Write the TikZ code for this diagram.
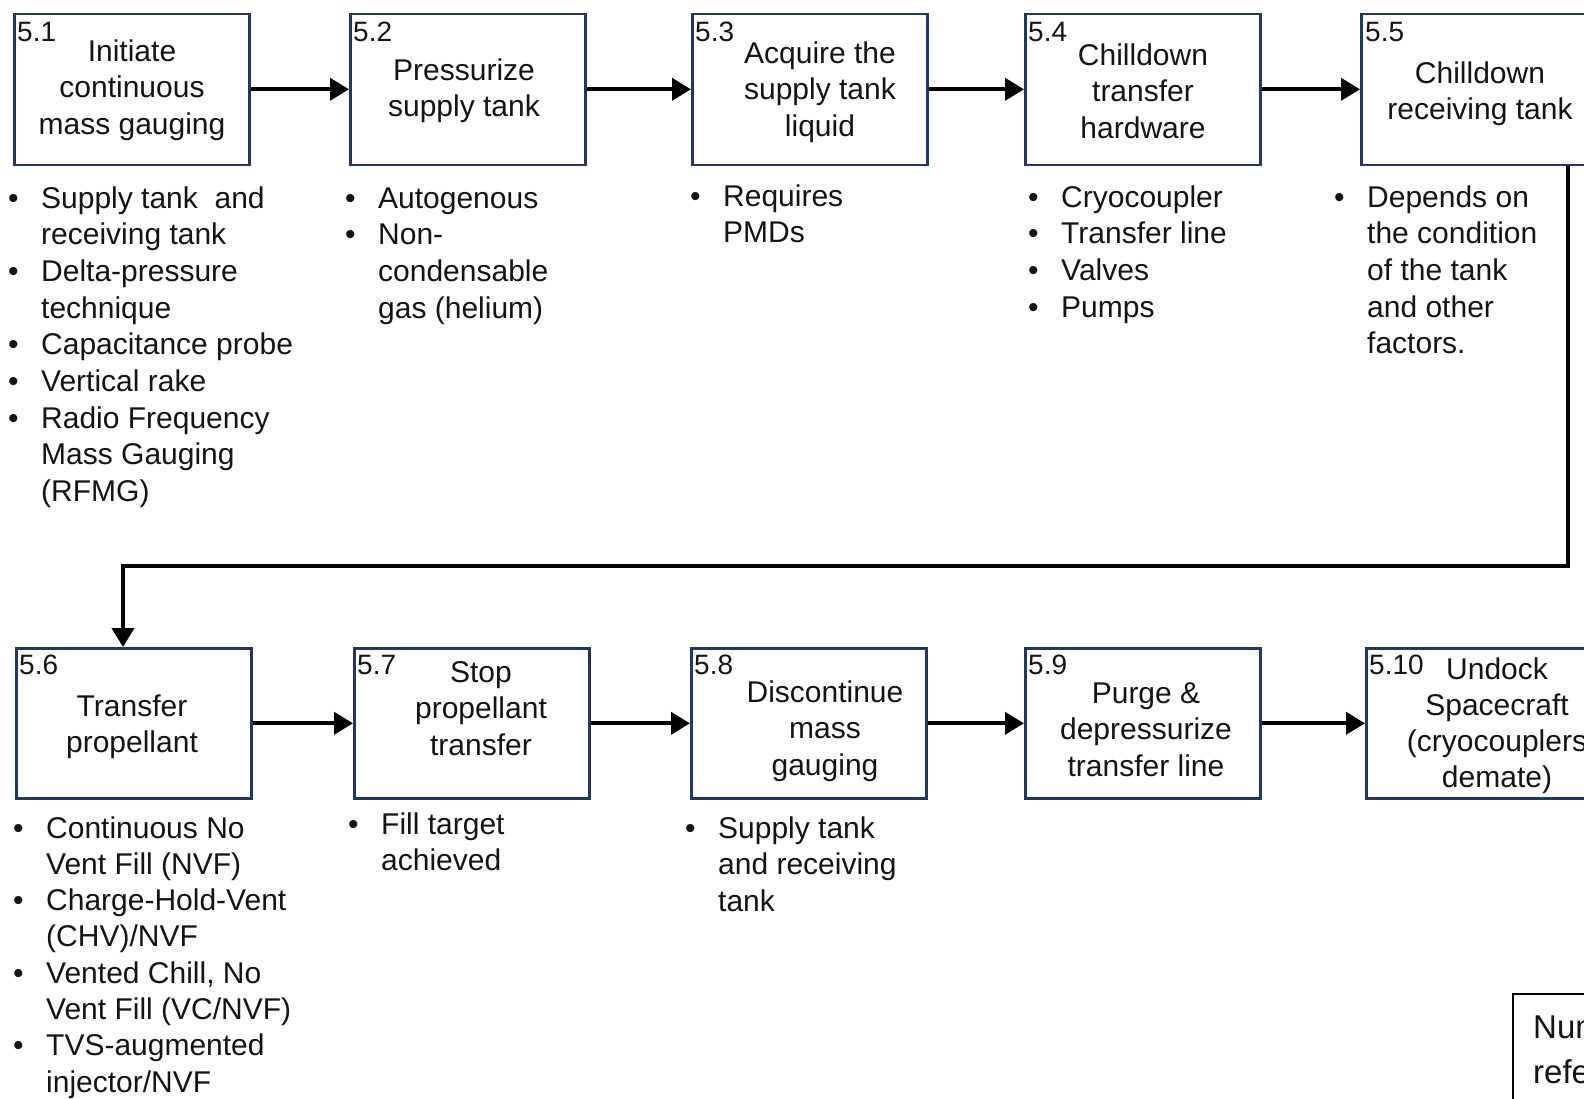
\documentclass[tikz,border=0pt]{standalone}
\usepackage{fontspec}
\setmainfont{Liberation Sans}
\usetikzlibrary{arrows.meta}
\definecolor{boxblue}{RGB}{31,56,100}
\definecolor{txt}{RGB}{20,20,20}
\newcommand\bu{\makebox[33pt][l]{•}}
\newcommand\bi{\hspace*{33pt}}
\begin{document}
\begin{tikzpicture}[x=1pt,y=-1pt,
  stepbox/.style={draw=boxblue,line width=2.6pt,fill=white,minimum width=235pt,minimum height=151pt,anchor=north west,inner sep=0pt},
  ttl/.style={align=center,anchor=base,inner sep=0pt,font=\fontsize{30}{36.5}\selectfont,text=txt},
  num/.style={anchor=base west,inner sep=0pt,font=\fontsize{28}{34}\selectfont,text=txt},
  blist/.style={align=left,anchor=base west,inner sep=0pt,font=\fontsize{30}{36.7}\selectfont,text=txt},
  arr/.style={line width=4pt,-{Triangle[length=19pt,width=22pt]}},
  notebox/.style={draw=black,line width=1.5pt,fill=white,anchor=north west,minimum width=200pt,minimum height=200pt,inner sep=0pt}
]
\useasboundingbox (0,0) rectangle (1584,1098);
\clip (0,0) rectangle (1584,1098);
\fill[white] (0,0) rectangle (1584,1098);

% row 1 boxes
\node[stepbox] (b51) at (13,12.5) {};
\node[stepbox] (b52) at (349,12.5) {};
\node[stepbox] (b53) at (691,12.5) {};
\node[stepbox] (b54) at (1024,12.5) {};
\node[stepbox] (b55) at (1360,12.5) {};
% row 2 boxes
\node[stepbox,minimum height=150pt] (b56) at (15,647) {};
\node[stepbox,minimum height=150pt] (b57) at (353,647) {};
\node[stepbox,minimum height=150pt] (b58) at (690,647) {};
\node[stepbox,minimum height=150pt] (b59) at (1024,647) {};
\node[stepbox,minimum height=150pt] (b510) at (1365,647) {};

% numbers
\node[num] (n51) at (17,41) {5.1};
\node[num] (n52) at (353,41) {5.2};
\node[num] (n53) at (695,41) {5.3};
\node[num] (n54) at (1028,41) {5.4};
\node[num] (n55) at (1365,41) {5.5};
\node[num] (n56) at (19,674) {5.6};
\node[num] (n57) at (357,674) {5.7};
\node[num] (n58) at (694,674) {5.8};
\node[num] (n59) at (1028,674) {5.9};
\node[num] (n510) at (1369,674) {5.10};

% titles (anchor = baseline of last line)
\node[ttl] (t51) at (132,134) {Initiate\\continuous\\mass gauging};
\node[ttl] (t52) at (464,116.5) {Pressurize\\supply tank};
\node[ttl] (t53) at (820,136) {Acquire the\\supply tank\\liquid};
\node[ttl] (t54) at (1143,138) {Chilldown\\transfer\\hardware};
\node[ttl] (t55) at (1480,119.5) {Chilldown\\receiving tank};
\node[ttl] (t56) at (132,752.5) {Transfer\\propellant};
\node[ttl] (t57) at (481,755) {Stop\\propellant\\transfer};
\node[ttl] (t58) at (825,775) {Discontinue\\mass\\gauging};
\node[ttl] (t59) at (1146,776) {Purge \&\\depressurize\\transfer line};
\node[ttl,font=\fontsize{30}{35.7}\selectfont] (t510) at (1497,787) {Undock\\Spacecraft\\(cryocouplers\\demate)};

% bullet lists (anchor = baseline of last line)
\node[blist] (l51) at (8,501.6) {\bu Supply tank\ \ and\\ \bi receiving tank\\ \bu Delta-pressure\\ \bi technique\\ \bu Capacitance probe\\ \bu Vertical rake\\ \bu Radio Frequency\\ \bi Mass Gauging\\ \bi (RFMG)};
\node[blist] (l52) at (345,318.1) {\bu Autogenous\\ \bu Non-\\ \bi condensable\\ \bi gas (helium)};
\node[blist] (l53) at (690,242.7) {\bu Requires\\ \bi PMDs};
\node[blist] (l54) at (1028,317.1) {\bu Cryocoupler\\ \bu Transfer line\\ \bu Valves\\ \bu Pumps};
\node[blist] (l55) at (1334,353.8) {\bu Depends on\\ \bi the condition\\ \bi of the tank\\ \bi and other\\ \bi factors.};
\node[blist,font=\fontsize{30}{36.3}\selectfont] (l56) at (13,1092.1) {\bu Continuous No\\ \bi Vent Fill (NVF)\\ \bu Charge-Hold-Vent\\ \bi (CHV)/NVF\\ \bu Vented Chill, No\\ \bi Vent Fill (VC/NVF)\\ \bu TVS-augmented\\ \bi injector/NVF};
\node[blist] (l57) at (348,870.7) {\bu Fill target\\ \bi achieved};
\node[blist] (l58) at (685,911.4) {\bu Supply tank\\ \bi and receiving\\ \bi tank};

% note box
\node[notebox] (note) at (1512,993) {};
\node[blist,font=\fontsize{33}{45}\selectfont] (notetext) at (1533,1083) {Num\\refe};

% connectors
\draw[arr] (b51.east) -- (b52.west);
\draw[arr] (b52.east) -- (b53.west);
\draw[arr] (b53.east) -- (b54.west);
\draw[arr] (b54.east) -- (b55.west);
\coordinate (c1) at (1568,566);
\coordinate (c2) at (123,566);
\draw[arr] (b55.south -| c1) -- (c1) -- (c2) -- (c2 |- b56.north);
\draw[arr] (b56.east) -- (b57.west);
\draw[arr] (b57.east) -- (b58.west);
\draw[arr] (b58.east) -- (b59.west);
\draw[arr] (b59.east) -- (b510.west);
\end{tikzpicture}
\end{document}
